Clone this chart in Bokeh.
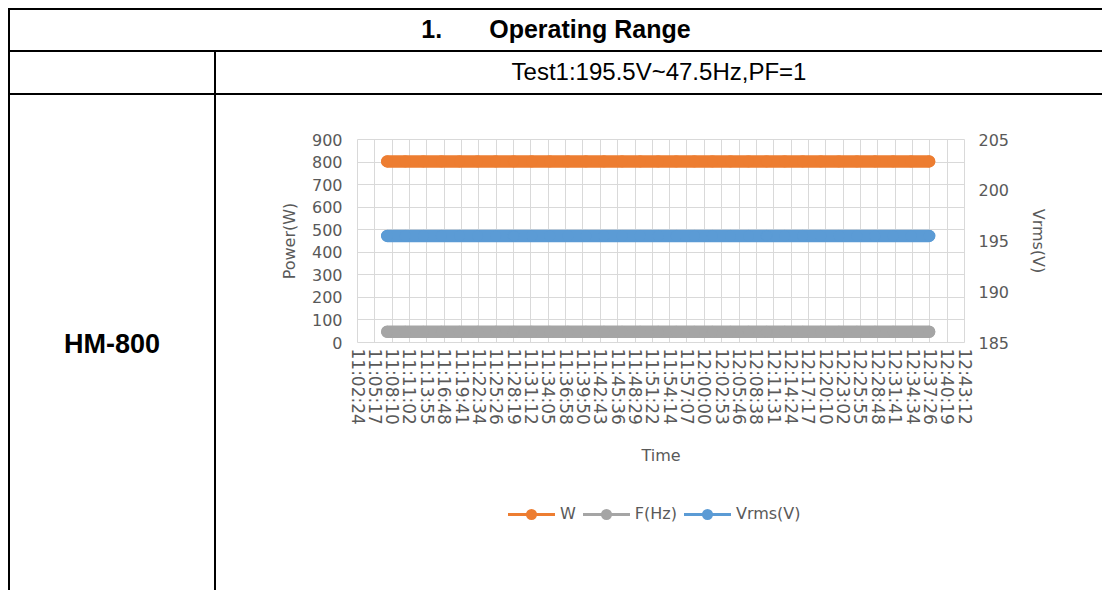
import math
from bokeh.plotting import figure
from bokeh.models import Range1d, LinearAxis, FixedTicker, Div, ColumnDataSource
from bokeh.layouts import column, row
from bokeh.embed import file_html
from bokeh.resources import INLINE

# ---------------- data ----------------
TITLE_NUM = "1."
TITLE_TEXT = "Operating Range"
SUBTITLE = "Test1:195.5V~47.5Hz,PF=1"
MODEL = "HM-800"

tick_labels = ["11:02:24", "11:05:17", "11:08:10", "11:11:02", "11:13:55", "11:16:48",
               "11:19:41", "11:22:34", "11:25:26", "11:28:19", "11:31:12", "11:34:05",
               "11:36:58", "11:39:50", "11:42:43", "11:45:36", "11:48:29", "11:51:22",
               "11:54:14", "11:57:07", "12:00:00", "12:02:53", "12:05:46", "12:08:38",
               "12:11:31", "12:14:24", "12:17:17", "12:20:10", "12:23:02", "12:25:55",
               "12:28:48", "12:31:41", "12:34:34", "12:37:26", "12:40:19", "12:43:12"]

sample_times = ["11:07:20", "11:10:20", "11:13:20", "11:16:20", "11:19:20", "11:22:20",
                "11:25:20", "11:28:20", "11:31:20", "11:34:20", "11:37:20", "11:40:20",
                "11:43:20", "11:46:20", "11:49:20", "11:52:20", "11:55:20", "11:58:20",
                "12:01:20", "12:04:20", "12:07:20", "12:10:20", "12:13:20", "12:16:20",
                "12:19:20", "12:22:20", "12:25:20", "12:28:20", "12:31:20", "12:34:20",
                "12:37:20"]

power_w = [803, 803, 803, 803, 803, 803, 803, 803, 803, 803, 803,
           803, 803, 803, 803, 803, 803, 803, 803, 803, 803,
           803, 803, 803, 803, 803, 803, 803, 803, 803, 803]
freq_hz = [47.5, 47.5, 47.5, 47.5, 47.5, 47.5, 47.5, 47.5, 47.5, 47.5, 47.5,
           47.5, 47.5, 47.5, 47.5, 47.5, 47.5, 47.5, 47.5, 47.5, 47.5,
           47.5, 47.5, 47.5, 47.5, 47.5, 47.5, 47.5, 47.5, 47.5, 47.5]
vrms_v = [195.5, 195.5, 195.5, 195.5, 195.5, 195.5, 195.5, 195.5, 195.5, 195.5, 195.5,
          195.5, 195.5, 195.5, 195.5, 195.5, 195.5, 195.5, 195.5, 195.5, 195.5,
          195.5, 195.5, 195.5, 195.5, 195.5, 195.5, 195.5, 195.5, 195.5, 195.5]

power_ticks = [0, 100, 200, 300, 400, 500, 600, 700, 800, 900]
vrms_ticks = [185, 190, 195, 200, 205]

series_names = ["W", "F(Hz)", "Vrms(V)"]
series_colors = ["#ED7D31", "#A5A5A5", "#5B9BD5"]


def to_sec(s):
    h, m, sec = s.split(":")
    return int(h) * 3600 + int(m) * 60 + int(sec)


tick_secs = [to_sec(t) for t in tick_labels]
x_secs = [to_sec(t) for t in sample_times]

TXT = "#595959"
FONT = "DejaVu Sans"
GRID = "#D9D9D9"

# ---------------- chart ----------------
p = figure(width=886, height=400, output_backend="svg", toolbar_location=None,
           x_range=Range1d(tick_secs[0], tick_secs[-1]),
           y_range=Range1d(power_ticks[0], power_ticks[-1]),
           min_border_left=141, min_border_right=138,
           min_border_top=44, min_border_bottom=153)
p.extra_y_ranges = {"v": Range1d(vrms_ticks[0], vrms_ticks[-1])}
p.outline_line_color = GRID
p.background_fill_color = "white"
p.border_fill_color = "white"

p.xaxis.ticker = FixedTicker(ticks=tick_secs)
p.xaxis.major_label_overrides = {s: lab for s, lab in zip(tick_secs, tick_labels)}
p.xaxis.major_label_orientation = -math.pi / 2
p.xaxis.axis_label = "Time"
p.yaxis.ticker = FixedTicker(ticks=power_ticks)
p.yaxis.axis_label = "Power(W)"

raxis = LinearAxis(y_range_name="v", ticker=FixedTicker(ticks=vrms_ticks),
                   axis_label="Vrms(V)")
p.add_layout(raxis, "right")

for ax in [p.xaxis[0], p.yaxis[0], raxis]:
    ax.axis_line_color = None
    ax.major_tick_line_color = None
    ax.minor_tick_line_color = None
    ax.major_tick_out = 0
    ax.major_tick_in = 0
    ax.major_label_text_font = FONT
    ax.major_label_text_font_size = "16px"
    ax.major_label_text_color = TXT
    ax.axis_label_text_font = FONT
    ax.axis_label_text_font_size = "16px"
    ax.axis_label_text_font_style = "normal"
    ax.axis_label_text_color = TXT

p.xaxis.major_label_text_font_size = "17px"
p.xaxis.major_label_standoff = 6
p.xaxis.axis_label_standoff = 18
p.yaxis.major_label_standoff = 15
p.yaxis.axis_label_standoff = 10
raxis.major_label_standoff = 14
raxis.axis_label_standoff = 17

p.xgrid.grid_line_color = GRID
p.ygrid.grid_line_color = GRID
p.xgrid.ticker = FixedTicker(ticks=tick_secs)
p.ygrid.ticker = FixedTicker(ticks=power_ticks)

src = ColumnDataSource(dict(x=x_secs, w=power_w, f=freq_hz, v=vrms_v))
for name, col, c in zip(series_names, ["w", "f", "v"], series_colors):
    kw = {"y_range_name": "v"} if col == "v" else {}
    p.line("x", col, source=src, line_color=c, line_width=12.5, line_cap="round", **kw)
    p.scatter("x", col, source=src, marker="circle", size=11, fill_color=c,
              line_color=c, **kw)

# ---------------- legend (below the chart) ----------------
legend_items = []
for name, c in zip(series_names, series_colors):
    legend_items.append(
        '<span style="display:inline-flex;align-items:center;margin-right:7px">'
        '<span style="position:relative;display:inline-block;width:47px;height:3px;'
        'background:%s"><span style="position:absolute;left:18px;top:-4px;width:11px;'
        'height:11px;border-radius:50%%;background:%s"></span></span>'
        '<span style="margin-left:5px;font-family:\'%s\';font-size:16px;color:%s">%s</span>'
        '</span>' % (c, c, FONT, TXT, name))
legend_div = Div(text='<div style="width:886px;height:95px;box-sizing:border-box;'
                      'padding-left:292px;padding-top:8px;display:flex;'
                      'align-items:flex-start">%s</div>' % "".join(legend_items),
                 width=886, height=95, margin=0)

# ---------------- table ----------------
B = "2px solid #000"


def cell(html, w, h, borders, font):
    style = ("box-sizing:border-box;width:%dpx;height:%dpx;display:flex;"
             "align-items:center;justify-content:center;color:#000;%s;%s" %
             (w, h, ";".join("border-%s:%s" % (b, B) for b in borders), font))
    return Div(text='<div style="%s">%s</div>' % (style, html), width=w, height=h,
               margin=0)


title_div = cell('<span style="margin-right:47px">%s</span>%s' % (TITLE_NUM, TITLE_TEXT),
                 1094, 44, ["top", "left", "bottom"],
                 "font-family:'Liberation Sans';font-weight:bold;font-size:25px")
blank_div = cell("", 208, 43, ["left", "right", "bottom"], "")
sub_div = cell(SUBTITLE, 886, 43, ["bottom"],
               "font-family:'Liberation Sans';font-size:24px")
model_div = cell(MODEL, 208, 495, ["left", "right"],
                 "font-family:'Liberation Sans';font-weight:bold;font-size:27px;"
                 "padding-top:4px")

layout = column(title_div, row(blank_div, sub_div, spacing=0),
                row(model_div, column(p, legend_div, spacing=0), spacing=0),
                spacing=0, margin=(8, 0, 0, 8))

open("out.html", "w").write(file_html(layout, INLINE))
